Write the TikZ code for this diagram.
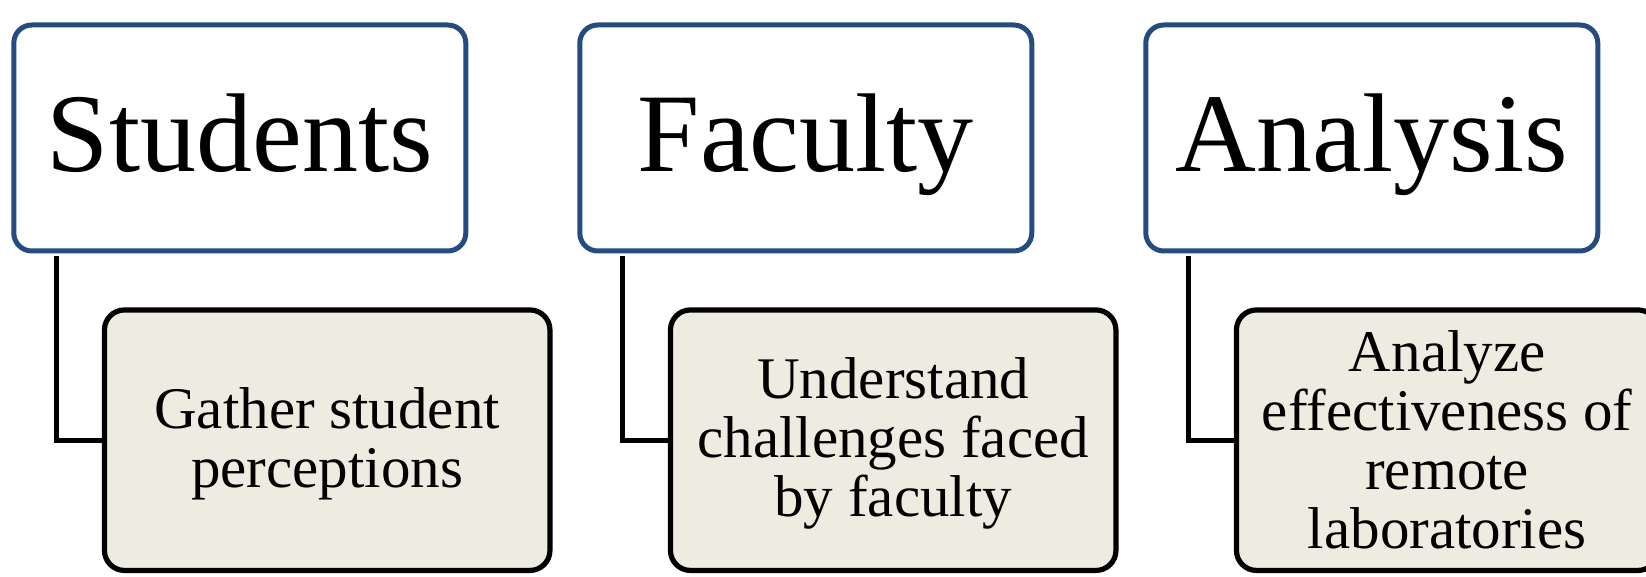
\documentclass[tikz,border=0pt]{standalone}
\usepackage{fontspec}
\setmainfont{Liberation Serif}
\definecolor{headblue}{RGB}{36,76,128}
\definecolor{notefill}{RGB}{238,236,225}
\begin{document}
\begin{tikzpicture}[x=1pt,y=1pt,
  head/.style={draw=headblue,line width=2.5pt,rounded corners=9pt,fill=white,
    minimum width=226pt,minimum height=113pt,inner sep=0pt,
    font=\fontsize{56}{67}\selectfont,text height=40pt,text depth=6pt},
  note/.style={draw=black,line width=2.6pt,rounded corners=10pt,fill=notefill,
    minimum width=222.75pt,minimum height=130.25pt,inner sep=0pt,align=center,
    font=\fontsize{29.5}{29.5}\selectfont},
  link/.style={line width=2.4pt}]
\useasboundingbox (0,0) rectangle (823,-288.5);

\node[head] (students) at (119.9,-69) {Students};
\node[head] (faculty)  at (402.9,-69) {Faculty};
\node[head] (analysis) at (685.9,-69) {Analysis};

\node[note,text depth=3pt] (gather) at (163.6,-220.1) {Gather student\\perceptions};
\node[note,text depth=3pt] (challenges) at (446.6,-220.1) {Understand\\challenges faced\\by faculty};
\node[note,minimum width=210.75pt] (effect) at (723.6,-220.1)
  {Analyze\\effectiveness of\\remote\\laboratories};

\foreach \p/\c in {students/gather,faculty/challenges,analysis/effect}
  \draw[link] ([xshift=22.5pt,yshift=-1.25pt]\p.south west) |- (\c.west);
\end{tikzpicture}
\end{document}
